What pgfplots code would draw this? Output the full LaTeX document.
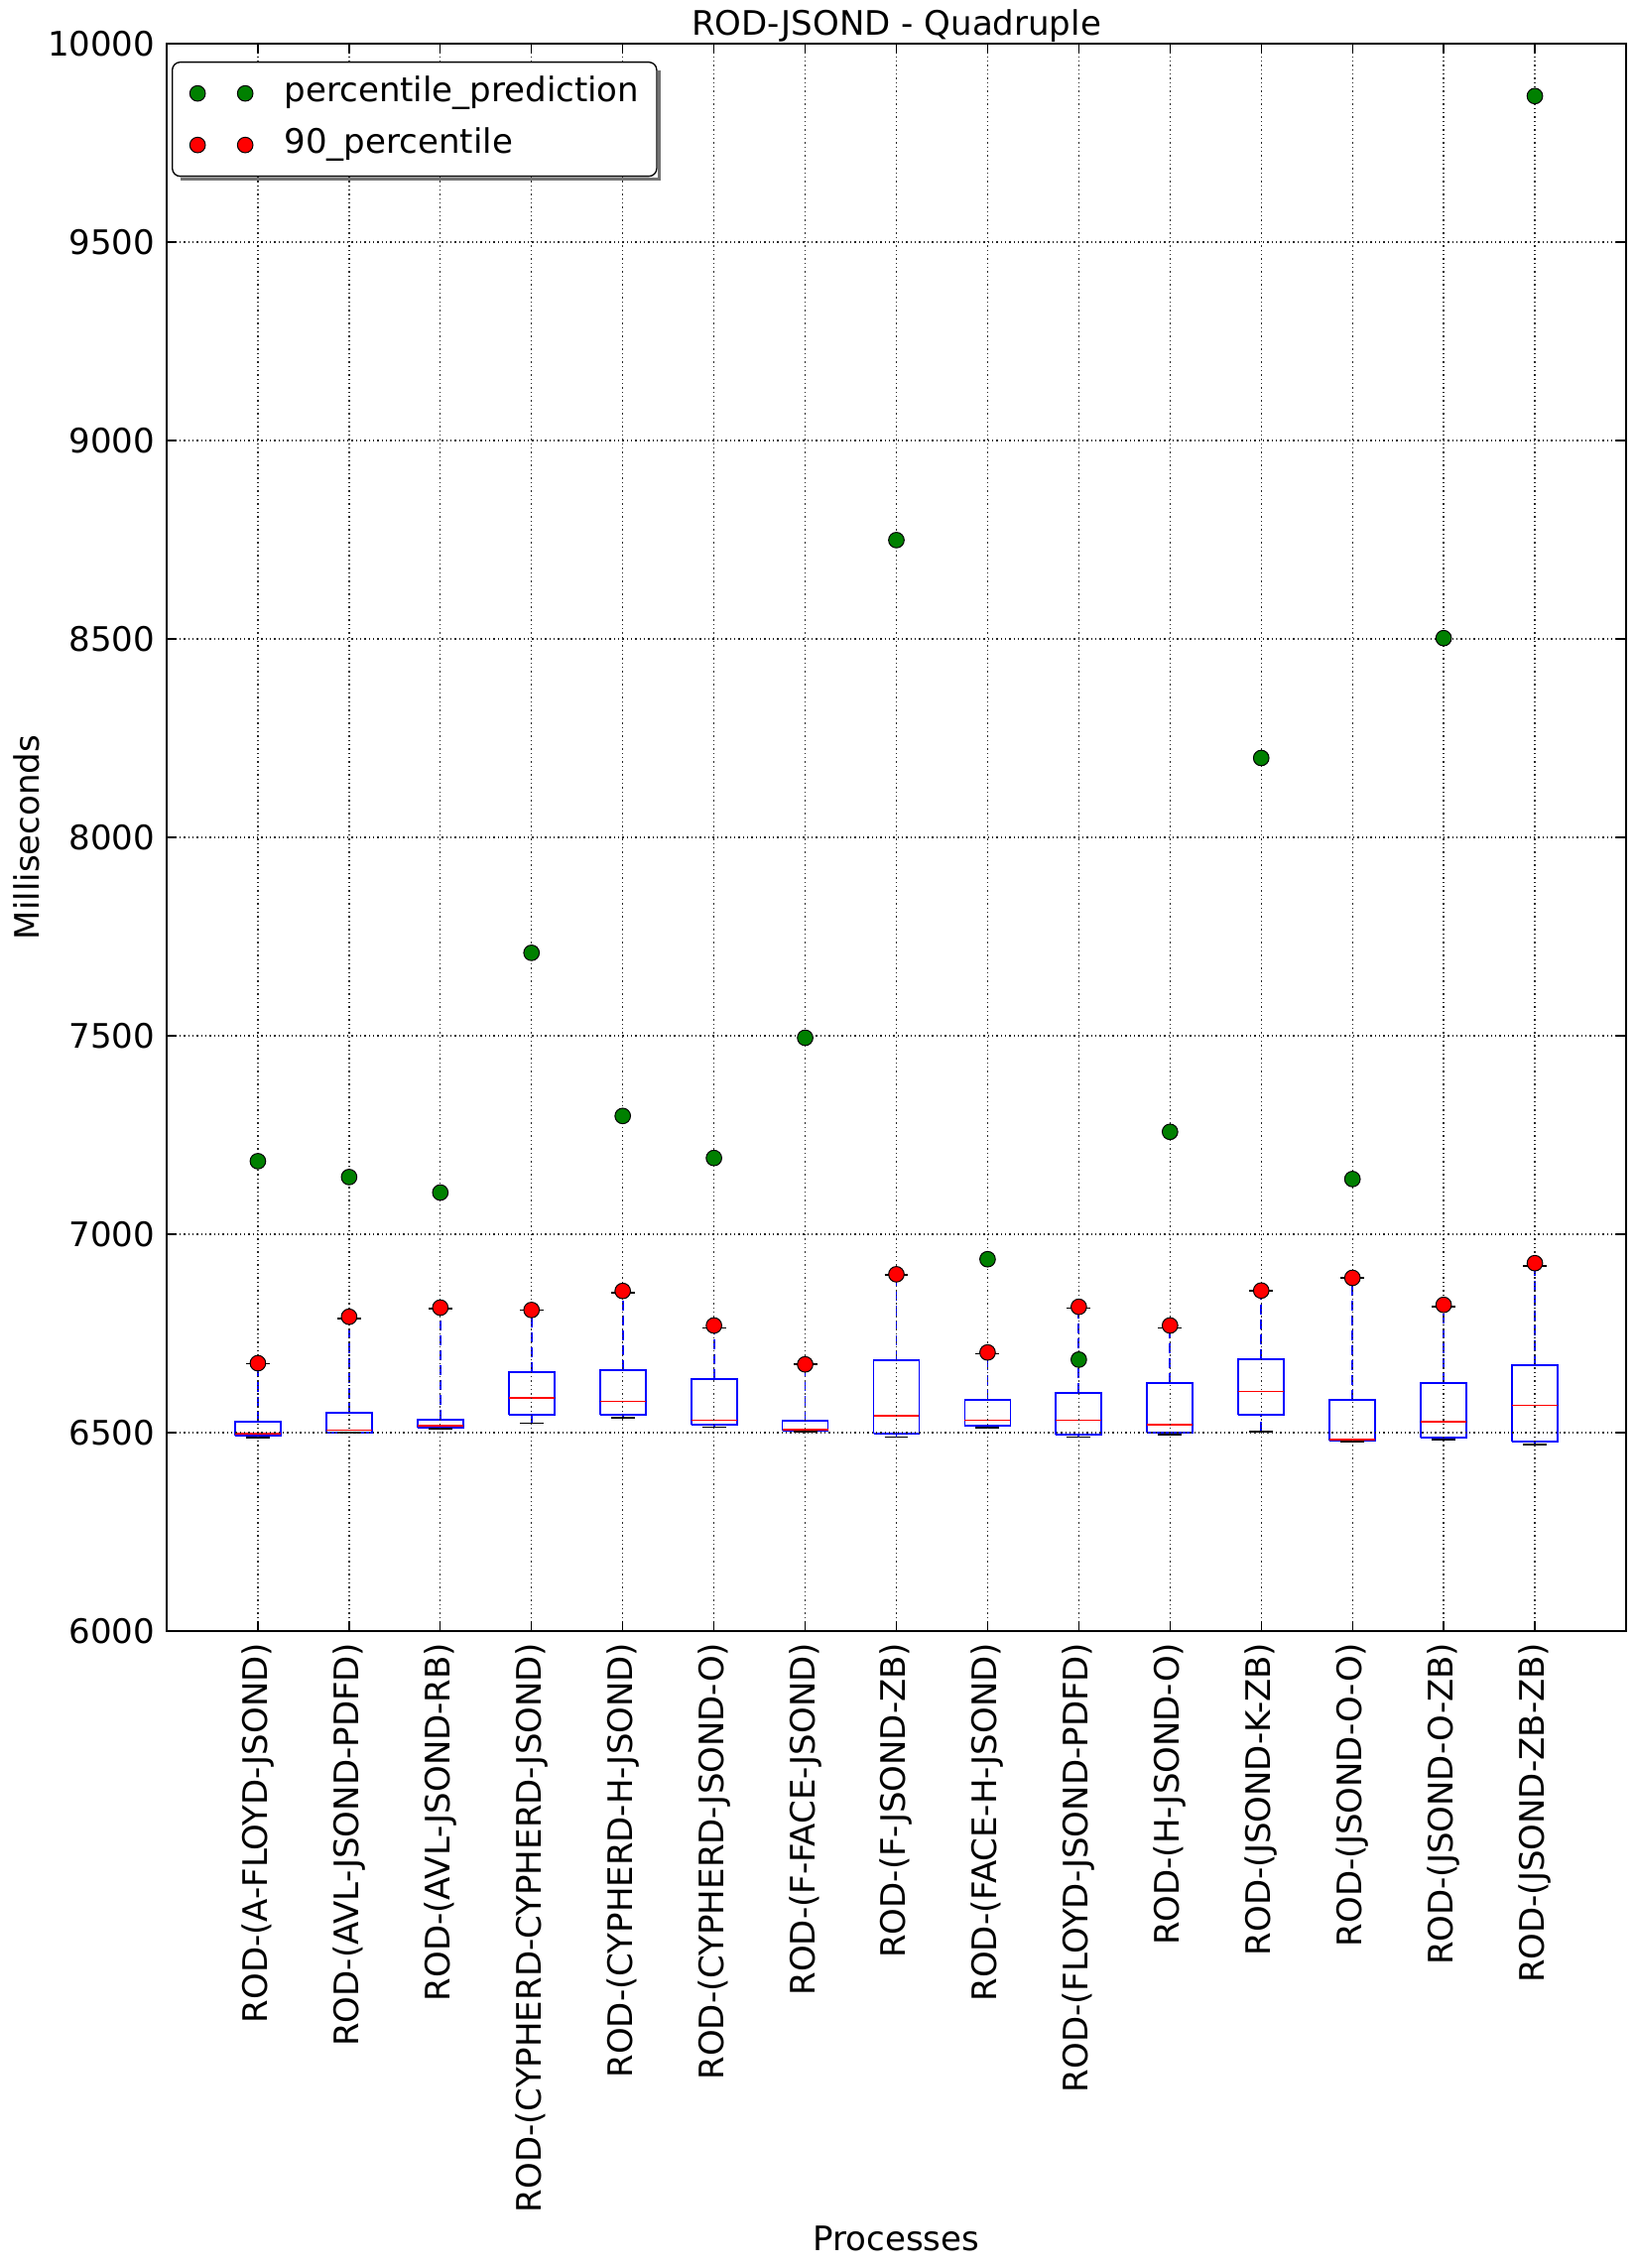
\documentclass[border=0pt]{standalone}
\usepackage{fontspec}
\setmainfont{DejaVu Sans}
\usepackage{pgfplots}
\usepackage{pgfplotstable}
\pgfplotsset{compat=1.18}

\definecolor{mplgreen}{rgb}{0,0.5,0}
\definecolor{mplred}{rgb}{1,0,0}
\definecolor{mplblue}{rgb}{0,0,1}
\newcommand{\lblfont}{\fontsize{10.2pt}{12pt}\selectfont}

% green = percentile_prediction, red = 90_percentile
\pgfplotstableread{
pos pred p90
1  7184 6675
2  7144 6792
3  7105 6815
4  7709 6809
5  7298 6857
6  7192 6770
7  7495 6672
8  8749 6899
9  6937 6702
10 6684 6817
11 7258 6770
12 8200 6858
13 7139 6890
14 8502 6822
15 9868 6927
}\pointdata

\pgfplotsset{
  twomarks/.style={
    legend image code/.code={\draw[##1,/tikz/only marks] plot coordinates {(0pt,0pt) (14.4pt,0pt)};}
  },
}

\begin{document}
\begin{tikzpicture}
\begin{axis}[
  scale only axis,
  width=441.3pt, height=480pt,
  xmin=0, xmax=16, ymin=6000, ymax=10000,
  xtick={1,...,15},
  xticklabels={ROD-(A-FLOYD-JSOND), ROD-(AVL-JSOND-PDFD), ROD-(AVL-JSOND-RB),
    ROD-(CYPHERD-CYPHERD-JSOND), ROD-(CYPHERD-H-JSOND), ROD-(CYPHERD-JSOND-O),
    ROD-(F-FACE-JSOND), ROD-(F-JSOND-ZB), ROD-(FACE-H-JSOND),
    ROD-(FLOYD-JSOND-PDFD), ROD-(H-JSOND-O), ROD-(JSOND-K-ZB),
    ROD-(JSOND-O-O), ROD-(JSOND-O-ZB), ROD-(JSOND-ZB-ZB)},
  ytick={6000,6500,...,10000},
  scaled y ticks=false,
  yticklabel style={/pgf/number format/1000 sep={}},
  /pgf/number format/assume math mode=true,
  tick label style={font=\lblfont, black},
  xticklabel style={rotate=90, anchor=east},
  major tick length=3pt,
  tick style={black, line width=0.4pt},
  grid=major,
  grid style={black!85, line width=0.4pt, dash pattern=on 0.4pt off 0.9pt},
  axis line style={black, line width=0.5pt},
  axis on top,
  unbounded coords=jump,
  title={ROD-JSOND - Quadruple},
  every axis title shift=0pt,
  title style={at={(axis description cs:0.5,1.005)}, anchor=base, font=\lblfont},
  xlabel={Processes},
  xlabel style={at={(axis description cs:0.5,-0.39)}, anchor=base, font=\lblfont},
  ylabel={Milliseconds},
  ylabel style={at={(axis description cs:-0.0959,0.5)}, anchor=center, font=\lblfont},
  legend style={
    name=leg,
    at={(0.0034,0.98875)}, anchor=north west,
    draw=black, line width=0.4pt, rounded corners=2.4pt, fill=white,
    inner xsep=5.3pt, inner ysep=4.35pt,
    nodes={inner sep=0pt, text height=7.7pt, text depth=2.5pt},
    row sep=5.4pt, column sep=9.5pt,
    font=\lblfont,
  },
  legend cell align=left,
]

% boxes: lower quartile to upper quartile
\addplot[forget plot, mplblue, line width=0.55pt] coordinates {
(0.75,6492) (1.25,6492) (1.25,6527) (0.75,6527) (0.75,6492) (1,nan)
(1.75,6501) (2.25,6501) (2.25,6549) (1.75,6549) (1.75,6501) (2,nan)
(2.75,6512) (3.25,6512) (3.25,6532) (2.75,6532) (2.75,6512) (3,nan)
(3.75,6544) (4.25,6544) (4.25,6652) (3.75,6652) (3.75,6544) (4,nan)
(4.75,6544) (5.25,6544) (5.25,6657) (4.75,6657) (4.75,6544) (5,nan)
(5.75,6520) (6.25,6520) (6.25,6634) (5.75,6634) (5.75,6520) (6,nan)
(6.75,6504) (7.25,6504) (7.25,6529) (6.75,6529) (6.75,6504) (7,nan)
(7.75,6497) (8.25,6497) (8.25,6682) (7.75,6682) (7.75,6497) (8,nan)
(8.75,6517) (9.25,6517) (9.25,6582) (8.75,6582) (8.75,6517) (9,nan)
(9.75,6495) (10.25,6495) (10.25,6599) (9.75,6599) (9.75,6495) (10,nan)
(10.75,6501) (11.25,6501) (11.25,6624) (10.75,6624) (10.75,6501) (11,nan)
(11.75,6544) (12.25,6544) (12.25,6684) (11.75,6684) (11.75,6544) (12,nan)
(12.75,6479) (13.25,6479) (13.25,6582) (12.75,6582) (12.75,6479) (13,nan)
(13.75,6487) (14.25,6487) (14.25,6626) (13.75,6626) (13.75,6487) (14,nan)
(14.75,6477) (15.25,6477) (15.25,6671) (14.75,6671) (14.75,6477)
};

% medians
\addplot[forget plot, mplred, line width=0.5pt] coordinates {
(0.75,6497) (1.25,6497) (1,nan)
(1.75,6506) (2.25,6506) (2,nan)
(2.75,6517) (3.25,6517) (3,nan)
(3.75,6587) (4.25,6587) (4,nan)
(4.75,6579) (5.25,6579) (5,nan)
(5.75,6531) (6.25,6531) (6,nan)
(6.75,6508) (7.25,6508) (7,nan)
(7.75,6542) (8.25,6542) (8,nan)
(8.75,6531) (9.25,6531) (9,nan)
(9.75,6531) (10.25,6531) (10,nan)
(10.75,6520) (11.25,6520) (11,nan)
(11.75,6604) (12.25,6604) (12,nan)
(12.75,6482) (13.25,6482) (13,nan)
(13.75,6527) (14.25,6527) (14,nan)
(14.75,6569) (15.25,6569)
};

% whiskers: quartile to whisker end
\addplot[forget plot, mplblue, line width=0.55pt, dash pattern=on 3pt off 1.5pt] coordinates {
(1,6487) (1,6492) (1,nan) (1,6527) (1,6674) (1,nan)
(2,6500) (2,6501) (2,nan) (2,6549) (2,6787) (2,nan)
(3,6510) (3,6512) (3,nan) (3,6532) (3,6812) (3,nan)
(4,6524) (4,6544) (4,nan) (4,6652) (4,6809) (4,nan)
(5,6537) (5,6544) (5,nan) (5,6657) (5,6852) (5,nan)
(6,6514) (6,6520) (6,nan) (6,6634) (6,6764) (6,nan)
(7,6502) (7,6504) (7,nan) (7,6529) (7,6672) (7,nan)
(8,6489) (8,6497) (8,nan) (8,6682) (8,6897) (8,nan)
(9,6512) (9,6517) (9,nan) (9,6582) (9,6699) (9,nan)
(10,6489) (10,6495) (10,nan) (10,6599) (10,6814) (10,nan)
(11,6495) (11,6501) (11,nan) (11,6624) (11,6764) (11,nan)
(12,6502) (12,6544) (12,nan) (12,6684) (12,6857) (12,nan)
(13,6477) (13,6479) (13,nan) (13,6582) (13,6890) (13,nan)
(14,6482) (14,6487) (14,nan) (14,6626) (14,6817) (14,nan)
(15,6470) (15,6477) (15,nan) (15,6671) (15,6920)
};

% whisker caps
\addplot[forget plot, black, line width=0.5pt] coordinates {
(0.87,6487) (1.13,6487) (1,nan) (0.87,6674) (1.13,6674) (1,nan)
(1.87,6500) (2.13,6500) (2,nan) (1.87,6787) (2.13,6787) (2,nan)
(2.87,6510) (3.13,6510) (3,nan) (2.87,6812) (3.13,6812) (3,nan)
(3.87,6524) (4.13,6524) (4,nan) (3.87,6809) (4.13,6809) (4,nan)
(4.87,6537) (5.13,6537) (5,nan) (4.87,6852) (5.13,6852) (5,nan)
(5.87,6514) (6.13,6514) (6,nan) (5.87,6764) (6.13,6764) (6,nan)
(6.87,6502) (7.13,6502) (7,nan) (6.87,6672) (7.13,6672) (7,nan)
(7.87,6489) (8.13,6489) (8,nan) (7.87,6897) (8.13,6897) (8,nan)
(8.87,6512) (9.13,6512) (9,nan) (8.87,6699) (9.13,6699) (9,nan)
(9.87,6489) (10.13,6489) (10,nan) (9.87,6814) (10.13,6814) (10,nan)
(10.87,6495) (11.13,6495) (11,nan) (10.87,6764) (11.13,6764) (11,nan)
(11.87,6502) (12.13,6502) (12,nan) (11.87,6857) (12.13,6857) (12,nan)
(12.87,6477) (13.13,6477) (13,nan) (12.87,6890) (13.13,6890) (13,nan)
(13.87,6482) (14.13,6482) (14,nan) (13.87,6817) (14.13,6817) (14,nan)
(14.87,6470) (15.13,6470) (15,nan) (14.87,6920) (15.13,6920)
};

\addplot[only marks, mark=*, mark size=2.35pt,
  mark options={fill=mplgreen, draw=black, line width=0.3pt}, twomarks]
  table[x=pos, y=pred] {\pointdata};
\addlegendentry{percentile\_prediction}

\addplot[only marks, mark=*, mark size=2.35pt,
  mark options={fill=mplred, draw=black, line width=0.3pt}, twomarks]
  table[x=pos, y=p90] {\pointdata};
\addlegendentry{90\_percentile}

\end{axis}
% legend shadow
\draw[black!55, line width=0.8pt]
  ([xshift=0.6pt,yshift=-2.6pt]leg.north east) -- ([xshift=0.6pt,yshift=-0.6pt]leg.south east)
  -- ([xshift=2.6pt,yshift=-0.6pt]leg.south west);
\pgfresetboundingbox
\useasboundingbox (-50.4pt,-192.6pt) rectangle (444.3pt,493.2pt);
\end{tikzpicture}
\end{document}
